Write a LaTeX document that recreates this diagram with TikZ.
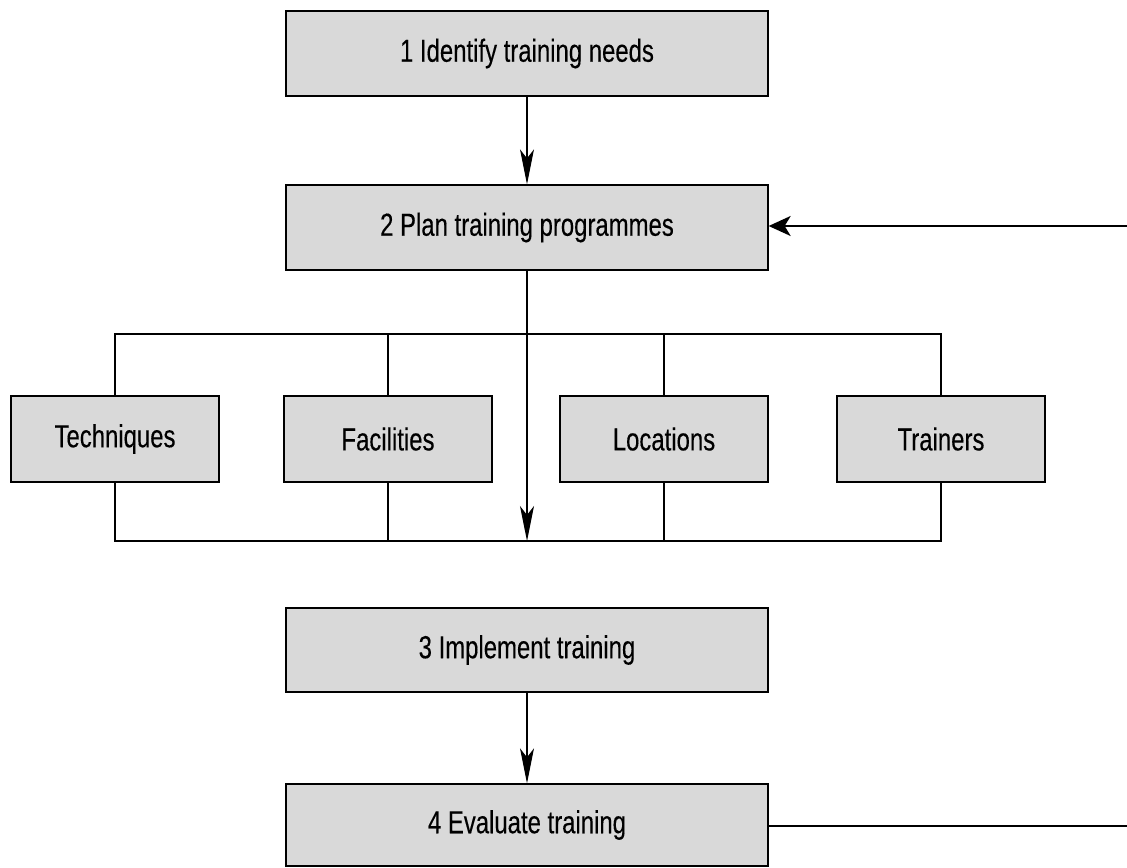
\documentclass[tikz,border=0pt]{standalone}
\usepackage{fontspec}
\setmainfont[FakeStretch=0.75,FakeBold=0.25]{Liberation Sans}
\usetikzlibrary{arrows.meta}
\definecolor{boxgray}{HTML}{D9D9D9}
\begin{document}
\begin{tikzpicture}[x=1bp,y=-1bp,
  bigbox/.style={draw=black,line width=1.3bp,fill=boxgray,minimum width=482bp,minimum height=85bp,inner sep=0pt,font=\fontsize{32}{38}\selectfont},
  smallbox/.style={draw=black,line width=1.3bp,fill=boxgray,minimum width=208bp,minimum height=86bp,inner sep=0pt,font=\fontsize{32}{38}\selectfont},
  conn/.style={draw=black,line width=1.3bp},
  feed/.style={draw=black,line width=2bp},
  vtip/.style={-{Stealth[length=35bp,width=14bp,inset=9bp]}},
  htip/.style={-{Stealth[length=22bp,width=20bp,inset=6bp]}}]
\useasboundingbox (0,0) rectangle (1127,868);
\node[bigbox] (b1) at (527,53.5) {1 Identify training needs};
\node[bigbox] (b2) at (527,227.5) {2 Plan training programmes};
\node[bigbox,minimum height=84bp] (b3) at (527,650) {3 Implement training};
\node[bigbox,minimum height=82bp] (b4) at (527,825) {4 Evaluate training};
\node[smallbox] (t) at (115,439) {Techniques};
\node[smallbox] (f) at (388,439) {Facilities};
\node[smallbox] (l) at (664,439) {Locations};
\node[smallbox] (r) at (941,439) {Trainers};
\coordinate (bus1) at (527,334);
\coordinate (bus2) at (527,541);
\coordinate (rtop) at (1127,226);
\coordinate (rbot) at (1127,826);
% main flow
\draw[conn,vtip] (b1.south) -- (b2.north);
\draw[conn,vtip] (b2.south) -- (bus2);
\draw[conn,vtip] (b3.south) -- (b4.north);
% top bus
\draw[conn] (t.north) |- (bus1) -| (r.north);
\draw[conn] (f.north) -- (f.north |- bus1);
\draw[conn] (l.north) -- (l.north |- bus1);
% bottom bus
\draw[conn,line width=1.6bp] (t.south) |- (bus2) -| (r.south);
\draw[conn] (f.south) -- (f.south |- bus2);
\draw[conn] (l.south) -- (l.south |- bus2);
% feedback
\draw[feed,htip] (rtop) -- (rtop -| b2.east);
\draw[feed] (b4.east |- rbot) -- (rbot);
\end{tikzpicture}
\end{document}
